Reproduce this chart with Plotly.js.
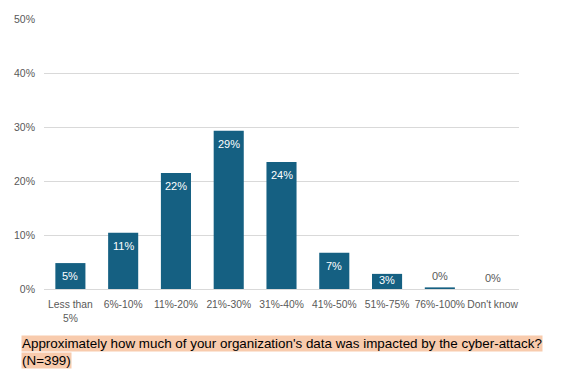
<!DOCTYPE html>
<html><head><meta charset="utf-8">
<script src="https://cdn.plot.ly/plotly-3.0.1.min.js"></script>
<style>html,body{margin:0;padding:0;background:#fff}#chart{width:561px;height:377px}</style>
</head><body><div id="chart"></div>
<script>
const categories = ["Less than<br>5%", "6%-10%", "11%-20%", "21%-30%", "31%-40%", "41%-50%", "51%-75%", "76%-100%", "Don't know"];
const values = [0.048, 0.104, 0.215, 0.293, 0.235, 0.067, 0.028, 0.003, 0.0];
const labels = ["5%", "11%", "22%", "29%", "24%", "7%", "3%", "0%", "0%"];
const yTicks = [0, 0.1, 0.2, 0.3, 0.4, 0.5];
const yTickLabels = ["0%", "10%", "20%", "30%", "40%", "50%"];
const captionLine1 = "Approximately how much of your organization's data was impacted by the cyber-attack?";
const captionLine2 = "(N=399)";

const FONT = "Liberation Sans, Arial, sans-serif";

const trace = {
  type: "bar",
  x: categories,
  y: values,
  marker: {color: "#156082"},
  width: 0.57,
  hoverinfo: "skip"
};

const labelAnnotations = categories.map((c, i) => {
  const v = values[i];
  const inside = v >= 0.02;
  const small = v < 0.04;
  return {
    x: c, y: inside && small ? v / 2 : v, xref: "x", yref: "y",
    text: labels[i], showarrow: false,
    yanchor: inside ? (small ? "middle" : "top") : "bottom",
    yshift: inside ? (small ? 1 : -5) : 3,
    font: {family: FONT, size: 11, color: inside ? "#ffffff" : "#595959"}
  };
});

const layout = {
  width: 561, height: 377,
  margin: {l: 44, r: 42, t: 19, b: 88},
  paper_bgcolor: "#ffffff", plot_bgcolor: "#ffffff",
  showlegend: false,
  xaxis: {
    type: "category",
    tickangle: 0,
    tickfont: {family: FONT, size: 10.3, color: "#595959"},
    showgrid: false, zeroline: false, showline: false, ticks: "", ticklen: 0,
    ticklabelstandoff: 8
  },
  yaxis: {
    range: [0, 0.5],
    tickvals: yTicks, ticktext: yTickLabels,
    tickfont: {family: FONT, size: 10.5, color: "#595959"},
    gridcolor: "#d9d9d9", gridwidth: 1,
    zeroline: true, zerolinecolor: "#d9d9d9", zerolinewidth: 1,
    showline: false, ticks: "", ticklabelstandoff: 8
  },
  annotations: labelAnnotations.concat([
    {xref: "paper", yref: "paper", x: -0.049, y: -0.17, xanchor: "left", yanchor: "top",
     text: captionLine1, showarrow: false, bgcolor: "#F8CBAD", borderpad: 0,
     font: {family: FONT, size: 13.4, color: "#000000"}},
    {xref: "paper", yref: "paper", x: -0.049, y: -0.232, xanchor: "left", yanchor: "top",
     text: captionLine2, showarrow: false, bgcolor: "#F8CBAD", borderpad: 0,
     font: {family: FONT, size: 13.4, color: "#000000"}}
  ])
};

Plotly.newPlot("chart", [trace], layout, {displayModeBar: false, staticPlot: true});
</script></body></html>
